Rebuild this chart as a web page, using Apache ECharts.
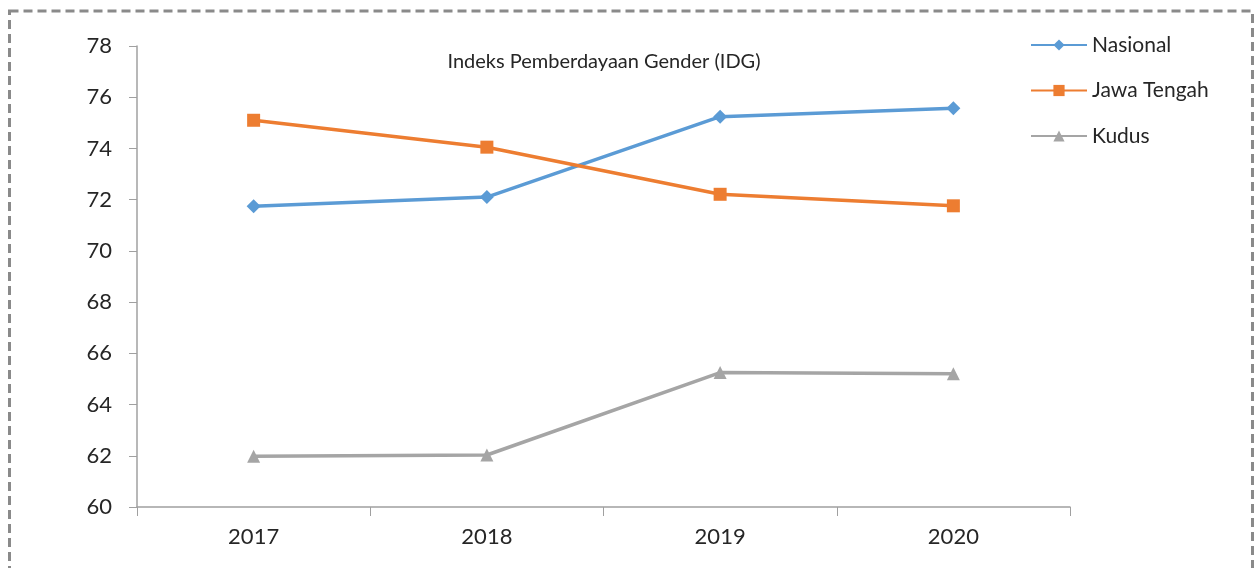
<!DOCTYPE html>
<html><head><meta charset="utf-8">
<script src="https://cdn.jsdelivr.net/npm/echarts@6/dist/echarts.min.js"></script>
<style>html,body{margin:0;padding:0;background:#fff}#c{width:1257px;height:568px}</style>
</head><body><div id="c"></div>
<script>
const categories = ['2017', '2018', '2019', '2020'];
const nasional = [71.74, 72.10, 75.24, 75.57];
const jawaTengah = [75.10, 74.05, 72.21, 71.76];
const kudus = [61.98, 62.03, 65.25, 65.20];
const yTicks = { min: 60, max: 78, interval: 2 };

const chart = echarts.init(document.getElementById('c'));
const font = 'Lato, "Open Sans", sans-serif';
chart.setOption({
  animation: false,
  backgroundColor: '#fff',
  textStyle: { fontFamily: font },
  title: {
    text: 'Indeks Pemberdayaan Gender (IDG)',
    left: 599, top: 47, textAlign: 'center',
    textStyle: { fontSize: 20, fontWeight: 'normal', color: '#262626', fontFamily: font }
  },
  graphic: [{
    type: 'rect', silent: true,
    shape: { x: 9.5, y: 11, width: 1243, height: 600 },
    style: { fill: 'none', stroke: '#8a8a8a', lineWidth: 3, lineDash: [9, 5] }
  }],
  legend: {
    orient: 'vertical', left: 1025, top: 29,
    itemWidth: 56, itemHeight: 14, itemGap: 23.5,
    textStyle: { fontSize: 21, lineHeight: 22, color: '#262626', fontFamily: font },
    data: ['Nasional', 'Jawa Tengah', 'Kudus']
  },
  grid: { left: 137, right: 187, top: 46, bottom: 61 },
  xAxis: {
    type: 'category', data: categories, boundaryGap: true,
    axisLine: { lineStyle: { color: '#a0a0a0', width: 1.5 } },
    axisTick: { show: true, length: 9, lineStyle: { color: '#a0a0a0' } },
    axisLabel: { fontSize: 22, color: '#262626', margin: 19, fontFamily: font },
    splitLine: { show: false }
  },
  yAxis: {
    type: 'value', min: yTicks.min, max: yTicks.max, interval: yTicks.interval,
    axisLine: { show: true, lineStyle: { color: '#a0a0a0', width: 1.5 } },
    axisTick: { show: true, length: 8, lineStyle: { color: '#a0a0a0' } },
    axisLabel: { fontSize: 22, color: '#262626', margin: 25, fontFamily: font },
    splitLine: { show: false }
  },
  series: [
    { name: 'Nasional', type: 'line', data: nasional, symbol: 'diamond', symbolSize: 14,
      itemStyle: { color: '#5b9bd5' }, lineStyle: { width: 3.5, color: '#5b9bd5' } },
    { name: 'Jawa Tengah', type: 'line', data: jawaTengah, symbol: 'rect', symbolSize: 13,
      itemStyle: { color: '#ed7d31' }, lineStyle: { width: 3.5, color: '#ed7d31' } },
    { name: 'Kudus', type: 'line', data: kudus, symbol: 'triangle', symbolSize: 13,
      itemStyle: { color: '#a5a5a5' }, lineStyle: { width: 3.5, color: '#a5a5a5' } }
  ]
});
</script></body></html>
